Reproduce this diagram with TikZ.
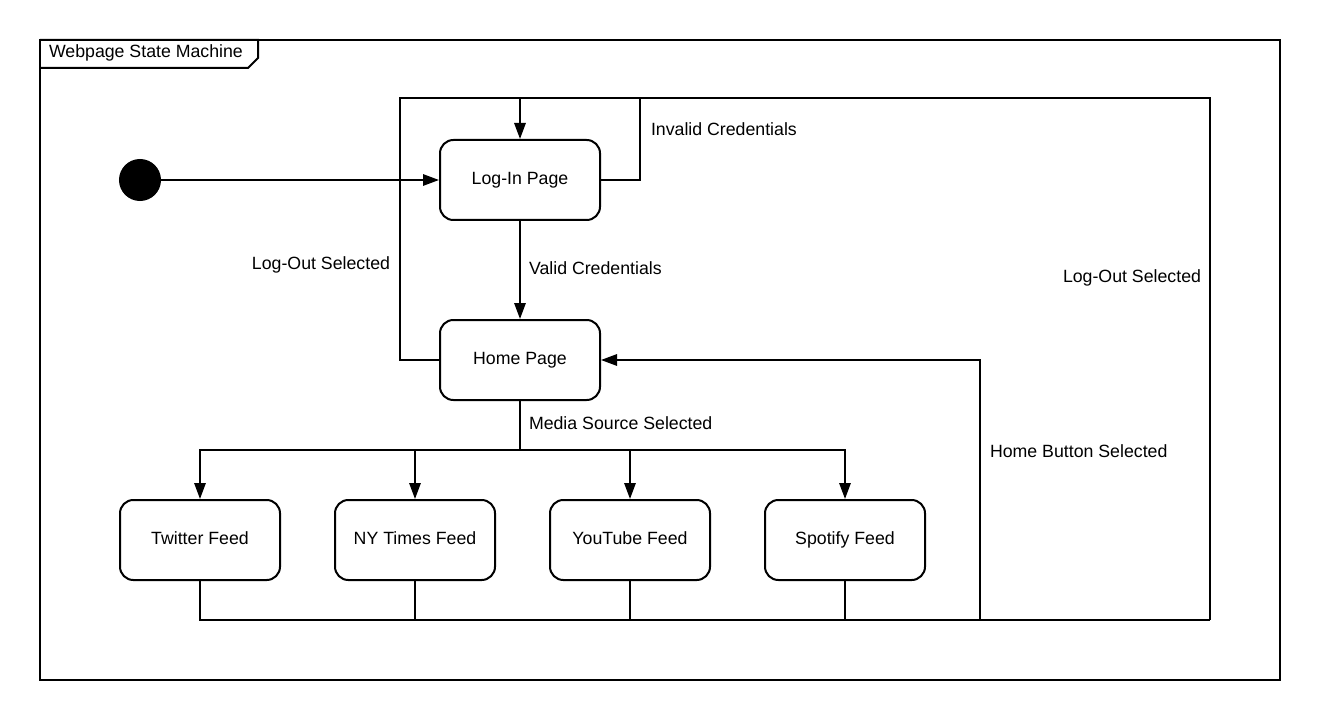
\documentclass[tikz,border=0pt]{standalone}
\usepackage{fontspec}
\setmainfont{Liberation Sans}
\usetikzlibrary{arrows.meta}
\begin{document}
\begin{tikzpicture}[x=0.75pt,y=-0.75pt,
  line width=1.5pt,
  every node/.style={font=\fontsize{13.3pt}{16pt}\selectfont},
  state/.style={draw,rounded corners=10pt,minimum width=120pt,minimum height=60pt,inner sep=0pt,text height=9.6pt,text depth=2.8pt},
  arr/.style={-{Triangle[length=12pt,width=8.5pt]}},
  lbl/.style={inner sep=0pt}]
\useasboundingbox (0,0) rectangle (1320,720);
% frame
\draw (40,40) rectangle (1280,680);
\draw (40,40) -- (258,40) -- (258,58) -- (248,68) -- (40,68);
\node[lbl,anchor=base west] (title) at (48,58) {Webpage State Machine};
% initial state
\node[circle,fill=black,draw,minimum size=40pt*0.75,inner sep=0pt] (init) at (140,180) {};
% states
\node[state] (login) at (520,180) {Log-In Page};
\node[state] (home) at (520,360) {Home Page};
\node[state] (twitter) at (200,540) {Twitter Feed};
\node[state] (nyt) at (415,540) {NY Times Feed};
\node[state] (youtube) at (630,540) {YouTube Feed};
\node[state] (spotify) at (845,540) {Spotify Feed};
% coordinates
\coordinate (tl) at (400,98);
\coordinate (tm) at (520,98);
\coordinate (ic) at (640,98);
\coordinate (tr) at (1210,98);
\coordinate (br) at (1210,620);
\coordinate (bh) at (980,620);
\coordinate (mj) at (520,450);
% connectors
\draw[arr] (init) -- (login);
\draw (login.east) -| (ic);
\draw (home.west) -| (tl) -- (tr) -- (br);
\draw[arr] (tm) -- (login.north);
\draw[arr] (login) -- (home);
\draw (home.south) -- (mj);
\draw[arr] (mj) -| (twitter.north);
\draw[arr] (mj) -| (nyt.north);
\draw[arr] (mj) -| (youtube.north);
\draw[arr] (mj) -| (spotify.north);
\draw (twitter.south) |- (br);
\draw (nyt.south) -- (nyt.south |- br);
\draw (youtube.south) -- (youtube.south |- br);
\draw (spotify.south) -- (spotify.south |- br);
\draw[arr] (bh) |- (home.east);
% labels
\node[lbl,anchor=base west] (l1) at (650,136) {Invalid Credentials};
\node[lbl,anchor=base east] (l2) at (391,269) {Log-Out Selected};
\node[lbl,anchor=base west] (l3) at (528,274) {Valid Credentials};
\node[lbl,anchor=base east] (l4) at (1202,282) {Log-Out Selected};
\node[lbl,anchor=base west] (l5) at (528,429) {Media Source Selected};
\node[lbl,anchor=base west] (l6) at (989,457) {Home Button Selected};
\end{tikzpicture}
\end{document}
